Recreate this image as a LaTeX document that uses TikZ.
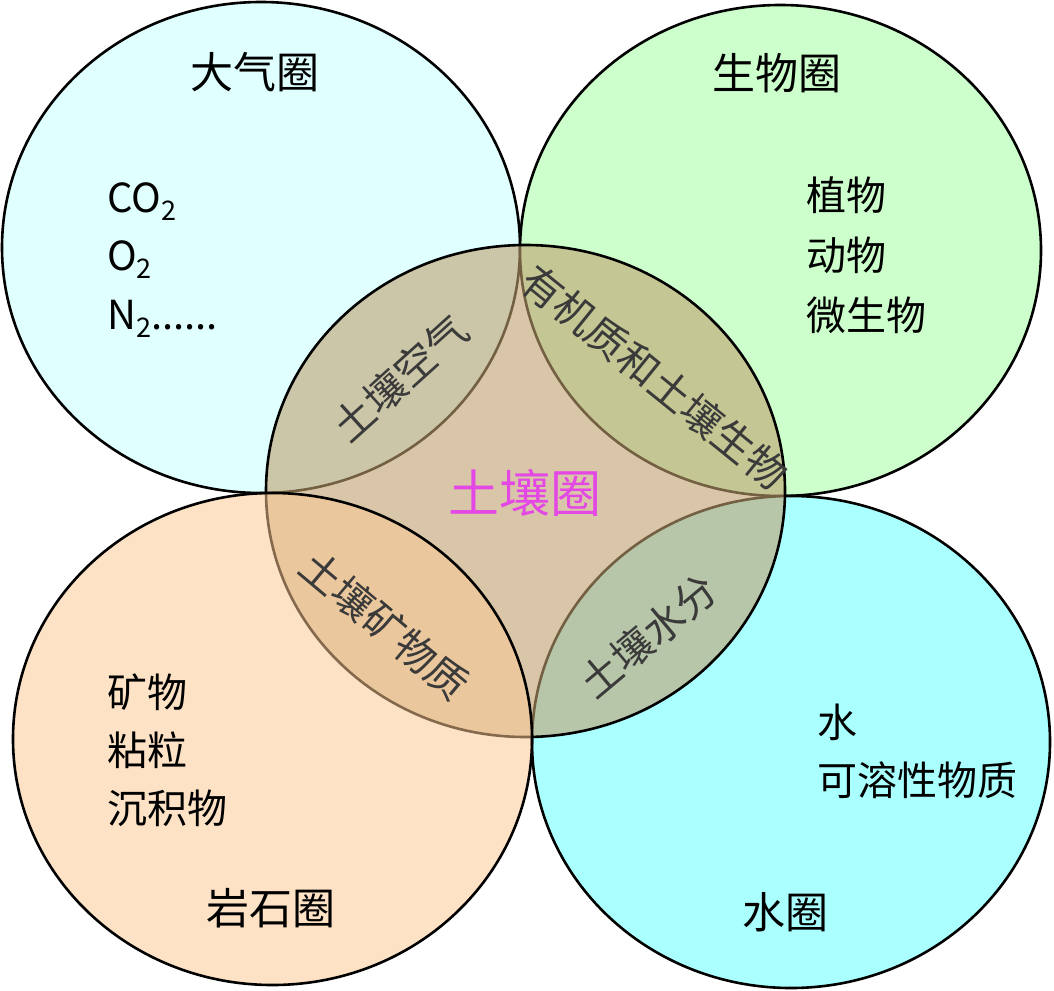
\documentclass[tikz,border=0pt]{standalone}
\usepackage{fontspec}
\setmainfont{Noto Sans CJK SC}
\definecolor{airblue}{HTML}{E0FFFF}
\definecolor{lifegreen}{HTML}{CCFFCC}
\definecolor{rockpeach}{RGB}{251,200,147}
\definecolor{waterblue}{HTML}{AAFFFF}
\definecolor{soilbrown}{RGB}{192,160,110}
\definecolor{soilpink}{RGB}{228,72,228}
\definecolor{darkgray}{HTML}{3A3A3A}
\newcommand{\subidx}[1]{\raisebox{-8pt}{\fontsize{27}{27}\selectfont #1}}

\begin{document}
\begin{tikzpicture}[x=1pt,y=-1pt,
  every node/.style={inner sep=0pt,font=\fontsize{40}{48}\selectfont},
  sphere/.style={draw=black,line width=2.6pt},
  title/.style={font=\fontsize{43}{50}\selectfont},
  lens/.style={text=darkgray,font=\fontsize{41}{48}\selectfont}]
  \useasboundingbox (0,0) rectangle (1054,990);
  % the four spheres, soil on top of three of them
  \draw[sphere,fill=airblue] (261,247.5) ellipse [x radius=259pt,y radius=245.5pt];
  \draw[sphere,fill=lifegreen] (780.5,250.5) ellipse [x radius=260.5pt,y radius=245.5pt];
  \draw[sphere,fill=waterblue] (791,742) ellipse [x radius=259pt,y radius=246pt];
  \draw[sphere,fill=soilbrown,fill opacity=0.6] (525.5,491) ellipse [x radius=259.5pt,y radius=246pt];
  \draw[sphere,fill=rockpeach,fill opacity=0.53] (272.5,739) ellipse [x radius=259.5pt,y radius=246pt];

  \node[title] (atmo) at (255,72) {大气圈};
  \node[anchor=base west] (co2) at (107,212) {CO\subidx{2}};
  \node[anchor=base west] (o2) at (107,270) {O\subidx{2}};
  \node[anchor=base west] (n2) at (107,329) {N\subidx{2}......};

  \node[title] (bio) at (777,73) {生物圈};
  \node[anchor=west] (plant) at (806,195) {植物};
  \node[anchor=west] (animal) at (806,255) {动物};
  \node[anchor=west] (microbe) at (806,315) {微生物};

  \node[anchor=west] (mineral) at (107,692) {矿物};
  \node[anchor=west] (clay) at (107,750) {粘粒};
  \node[anchor=west] (sediment) at (107,808) {沉积物};
  \node[title] (litho) at (271,908) {岩石圈};

  \node[anchor=west] (water) at (817,722) {水};
  \node[anchor=west] (solute) at (817,780) {可溶性物质};
  \node[title] (hydro) at (785,912) {水圈};

  \node[text=soilpink,font=\fontsize{51}{58}\selectfont] (soil) at (525,493) {土壤圈};
  \node[lens,rotate=42] (soilair) at (400,378) {土壤空气};
  \node[lens,rotate=-39] (soilbio) at (655,377) {有机质和土壤生物};
  \node[lens,rotate=-40] (soilmin) at (385,625) {土壤矿物质};
  \node[lens,rotate=40] (soilwater) at (648,636) {土壤水分};
\end{tikzpicture}
\end{document}
